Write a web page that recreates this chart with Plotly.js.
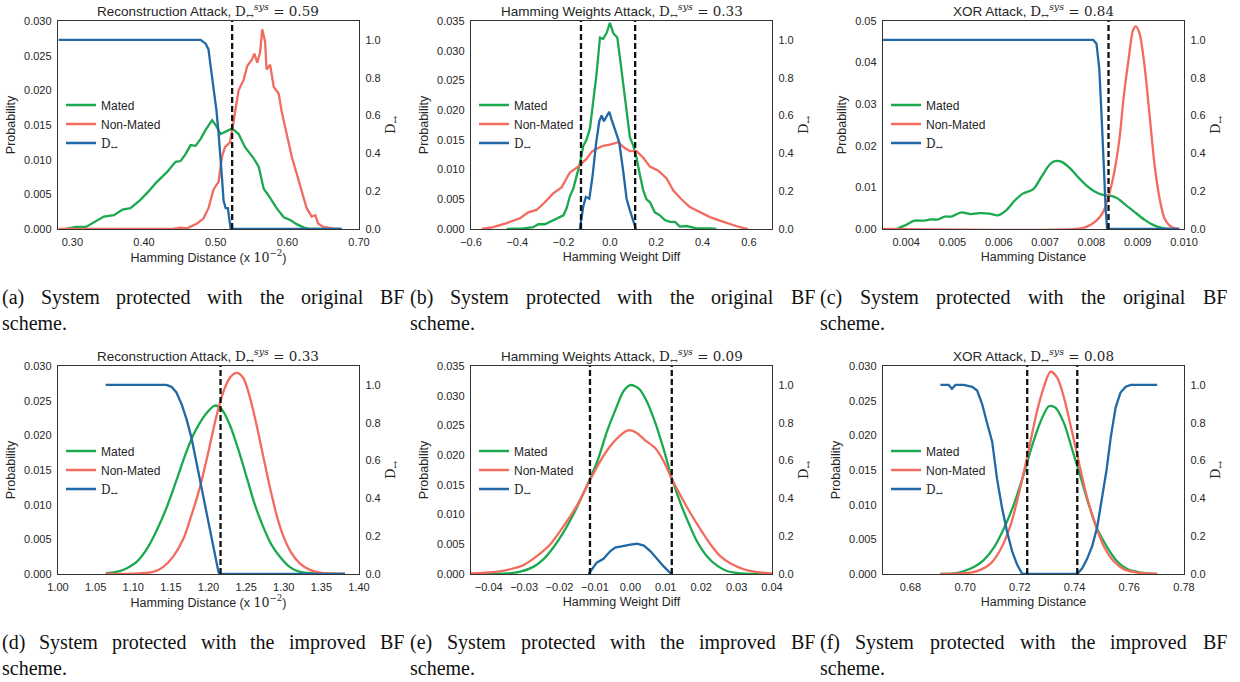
<!DOCTYPE html>
<html><head><meta charset="utf-8">
<script src="https://cdn.plot.ly/plotly-3.0.1.min.js"></script>
<style>body{margin:0;background:#fff}</style>
</head><body>
<div id="chart" style="width:1240px;height:682px"></div>
<script>
// ---------- DATA ----------
// (a) Reconstruction attack, original BF
const aMatedX = [0.291,0.305,0.319,0.330,0.344,0.358,0.370,0.381,0.395,0.407,0.418,0.432,0.444,0.451,0.458,0.465,0.472,0.479,0.486,0.495,0.500,0.507,0.513,0.523,0.532,0.541,0.553,0.560,0.567,0.576,0.585,0.595,0.604,0.613,0.623,0.632,0.664];
const aMatedY = [0,0.0003,0.0003,0.0010,0.0018,0.0020,0.0028,0.0030,0.0042,0.0055,0.0068,0.0082,0.0097,0.0098,0.0108,0.0121,0.0120,0.0130,0.0143,0.0157,0.0150,0.0137,0.0140,0.0145,0.0137,0.0118,0.0102,0.0090,0.0058,0.0045,0.0030,0.0017,0.0013,0.0007,0.0002,0,0];
const aNonX = [0.281,0.440,0.451,0.460,0.474,0.483,0.490,0.497,0.504,0.509,0.513,0.520,0.525,0.532,0.539,0.544,0.551,0.554,0.558,0.562,0.565,0.569,0.571,0.576,0.581,0.588,0.592,0.599,0.606,0.613,0.620,0.627,0.634,0.639,0.643,0.650,0.664,0.676];
const aNonY = [0,0,0.0002,0.0001,0.0008,0.0015,0.0030,0.0057,0.0068,0.0105,0.0118,0.0125,0.0155,0.0200,0.0215,0.0235,0.0245,0.0253,0.0240,0.0255,0.0288,0.0270,0.0230,0.0237,0.0205,0.0195,0.0170,0.0135,0.0105,0.0080,0.0055,0.0030,0.0018,0.0020,0.0008,0.0003,0.0001,0];
const aDX = [0.281,0.479,0.486,0.490,0.493,0.497,0.501,0.504,0.507,0.509,0.511,0.514,0.517,0.519,0.521,0.676];
const aDY = [1,1,0.98,0.95,0.86,0.75,0.63,0.51,0.38,0.26,0.15,0.11,0.11,0.06,0,0];
const aThr = [0.523];

// (b) Hamming weights attack, original BF
const bMatedX = [-0.446,-0.374,-0.331,-0.309,-0.281,-0.259,-0.230,-0.201,-0.187,-0.173,-0.158,-0.144,-0.130,-0.115,-0.101,-0.086,-0.072,-0.058,-0.043,-0.029,-0.014,0.000,0.014,0.032,0.046,0.060,0.075,0.086,0.101,0.115,0.130,0.144,0.158,0.173,0.194,0.216,0.237,0.259,0.281,0.302,0.331,0.374,0.432,0.460];
const bMatedY = [0,0.0001,0.0003,0.0008,0.0008,0.0012,0.0018,0.0023,0.0035,0.0055,0.0068,0.0090,0.0110,0.0140,0.0150,0.0170,0.0215,0.0260,0.0322,0.0320,0.0330,0.0347,0.0330,0.0322,0.0280,0.0235,0.0180,0.0155,0.0140,0.0120,0.0090,0.0065,0.0050,0.0045,0.0028,0.0023,0.0015,0.0012,0.0012,0.0004,0.0005,0.0001,0.0001,0];
const bNonX = [-0.554,-0.504,-0.446,-0.388,-0.353,-0.317,-0.281,-0.245,-0.209,-0.173,-0.137,-0.101,-0.079,-0.058,-0.029,0.000,0.036,0.058,0.086,0.115,0.144,0.173,0.209,0.245,0.273,0.309,0.345,0.388,0.432,0.475,0.518,0.561,0.597];
const bNonY = [0,0.0003,0.0010,0.0018,0.0028,0.0032,0.0045,0.0060,0.0070,0.0095,0.0105,0.0118,0.0130,0.0135,0.0140,0.0142,0.0146,0.0138,0.0131,0.0131,0.0120,0.0105,0.0098,0.0085,0.0065,0.0050,0.0037,0.0028,0.0020,0.0014,0.0008,0.0003,0];
const bDX = [-0.130,-0.115,-0.104,-0.089,-0.075,-0.060,-0.046,-0.036,-0.026,-0.014,-0.003,0.007,0.022,0.040,0.058,0.072,0.086,0.101,0.112];
const bDY = [0,0.12,0.17,0.16,0.28,0.45,0.57,0.60,0.57,0.60,0.62,0.58,0.53,0.46,0.30,0.16,0.10,0.04,0];
const bThr = [-0.125, 0.109];

// (c) XOR attack, original BF
const cMatedX = [0.00379,0.00400,0.00418,0.00436,0.00454,0.00469,0.00483,0.00498,0.00519,0.00537,0.00559,0.00580,0.00598,0.00616,0.00634,0.00652,0.00674,0.00692,0.00710,0.00721,0.00735,0.00753,0.00771,0.00789,0.00807,0.00825,0.00840,0.00854,0.00872,0.00894,0.00915,0.00933,0.00955,0.00976];
const cMatedY = [0,0.0010,0.0020,0.0020,0.0023,0.0023,0.0030,0.0030,0.0040,0.0036,0.0038,0.0037,0.0033,0.0045,0.0068,0.0085,0.0095,0.0125,0.0155,0.0163,0.0162,0.0147,0.0125,0.0105,0.0090,0.0082,0.0080,0.0075,0.0060,0.0040,0.0022,0.0010,0.0002,0];
const cNonX = [0.0035,0.00768,0.00789,0.00811,0.00825,0.00832,0.00840,0.00850,0.00861,0.00869,0.00880,0.00890,0.00896,0.00904,0.00915,0.00926,0.00937,0.00948,0.00958,0.00969,0.00980,0.00990];
const cNonY = [0,0,0.0005,0.0020,0.0040,0.0060,0.0090,0.0140,0.0220,0.0310,0.0405,0.0478,0.0487,0.0470,0.0390,0.0270,0.0149,0.0069,0.0025,0.0008,0.0002,0];
const cDX = [0.0035,0.00804,0.00811,0.00817,0.00822,0.00827,0.00831,0.00834,0.00990];
const cDY = [1,1,0.98,0.85,0.60,0.30,0.10,0,0];
const cThr = [0.00837];

// (d) Reconstruction attack, improved BF
const dMatedX = [1.0634,1.0776,1.0909,1.1042,1.1175,1.1308,1.1441,1.1574,1.1685,1.1796,1.1885,1.1973,1.2084,1.2173,1.2284,1.2395,1.2506,1.2616,1.2727,1.2838,1.2949,1.3082,1.3215,1.3392,1.3814];
const dMatedY = [0.0001,0.0003,0.0008,0.0017,0.0035,0.0062,0.0095,0.0135,0.0170,0.0200,0.0218,0.0232,0.0243,0.0238,0.0215,0.0180,0.0140,0.0100,0.0068,0.0042,0.0025,0.0010,0.0003,0.0001,0];
const dNonX = [1.0634,1.1086,1.1264,1.1397,1.1530,1.1663,1.1774,1.1885,1.1996,1.2106,1.2195,1.2284,1.2373,1.2461,1.2550,1.2639,1.2727,1.2816,1.2905,1.2993,1.3104,1.3215,1.3348,1.3481,1.3814];
const dNonY = [0,0.0001,0.0003,0.0010,0.0025,0.0050,0.0085,0.0125,0.0175,0.0228,0.0262,0.0283,0.0290,0.0283,0.0255,0.0215,0.0170,0.0125,0.0085,0.0055,0.0030,0.0015,0.0006,0.0002,0];
const dDX = [1.0634,1.1441,1.1508,1.1574,1.1641,1.1707,1.1774,1.1840,1.1907,1.1973,1.2040,1.2098,1.2133,1.2151,1.3814];
const dDY = [1,1,0.99,0.96,0.90,0.82,0.72,0.59,0.45,0.31,0.18,0.07,0.01,0,0];
const dThr = [1.216];

// (e) Hamming weights attack, improved BF
const eMatedX = [-0.045,-0.0349,-0.0311,-0.0274,-0.0245,-0.0217,-0.0189,-0.0161,-0.0137,-0.0114,-0.0090,-0.0066,-0.0043,-0.0019,0.0000,0.0024,0.0047,0.0070,0.0094,0.0117,0.0141,0.0165,0.0188,0.0216,0.0245,0.0273,0.0311,0.040];
const eMatedY = [0,0.0001,0.0004,0.0012,0.0025,0.0045,0.0070,0.0100,0.0130,0.0160,0.0195,0.0240,0.0275,0.0308,0.0318,0.0312,0.0290,0.0255,0.0210,0.0162,0.0120,0.0085,0.0055,0.0030,0.0014,0.0005,0.0001,0];
const eNonX = [-0.045,-0.0387,-0.0340,-0.0302,-0.0264,-0.0226,-0.0189,-0.0151,-0.0114,-0.0085,-0.0057,-0.0029,-0.0005,0.0019,0.0042,0.0070,0.0094,0.0117,0.0141,0.0169,0.0198,0.0226,0.0254,0.0282,0.0320,0.0358,0.040];
const eNonY = [0.0001,0.0003,0.0008,0.0015,0.0030,0.0050,0.0080,0.0115,0.0158,0.0190,0.0215,0.0233,0.0242,0.0237,0.0225,0.0212,0.0190,0.0160,0.0133,0.0103,0.0075,0.0050,0.0030,0.0018,0.0008,0.0003,0.0001];
const eDX = [-0.0118,-0.0106,-0.0095,-0.0076,-0.0057,-0.0043,-0.0019,0.0000,0.0019,0.0038,0.0057,0.0075,0.0094,0.0113,0.0117];
const eDY = [0,0.03,0.06,0.08,0.12,0.14,0.15,0.155,0.16,0.15,0.12,0.08,0.04,0.005,0];
const eThr = [-0.0114, 0.0117];

// (f) XOR attack, improved BF
const fMatedX = [0.6910,0.6959,0.6995,0.7032,0.7068,0.7105,0.7141,0.7178,0.7215,0.7245,0.7276,0.7306,0.7330,0.7361,0.7391,0.7422,0.7452,0.7483,0.7520,0.7556,0.7593,0.7641,0.7702];
const fMatedY = [0,0.0001,0.0004,0.0010,0.0020,0.0038,0.0065,0.0100,0.0145,0.0185,0.0220,0.0242,0.0240,0.0218,0.0180,0.0140,0.0100,0.0065,0.0038,0.0018,0.0007,0.0002,0];
const fNonX = [0.6910,0.7020,0.7056,0.7093,0.7129,0.7166,0.7202,0.7233,0.7263,0.7288,0.7312,0.7337,0.7361,0.7391,0.7422,0.7446,0.7477,0.7507,0.7544,0.7580,0.7629,0.7702];
const fNonY = [0,0.0002,0.0006,0.0015,0.0035,0.0070,0.0125,0.0180,0.0235,0.0270,0.0292,0.0283,0.0255,0.0205,0.0150,0.0110,0.0070,0.0040,0.0018,0.0007,0.0002,0];
const fDX = [0.6910,0.6940,0.6952,0.6965,0.6995,0.7026,0.7044,0.7062,0.7080,0.7099,0.7117,0.7135,0.7154,0.7172,0.7190,0.7209,0.7410,0.7428,0.7446,0.7465,0.7483,0.7501,0.7517,0.7532,0.7550,0.7568,0.7587,0.7605,0.7702];
const fDY = [1,1,0.98,1,1,0.99,0.97,0.90,0.80,0.70,0.50,0.35,0.22,0.12,0.05,0,0,0.03,0.08,0.15,0.25,0.40,0.55,0.72,0.88,0.96,0.99,1,1];
const fThr = [0.7227, 0.741];

// titles / labels / ticks
const attackNames = ["Reconstruction Attack","Hamming Weights Attack","XOR Attack","Reconstruction Attack","Hamming Weights Attack","XOR Attack"];
const dSysValues = ["0.59","0.33","0.84","0.33","0.09","0.08"];
const seriesNames = ["Mated","Non-Mated","D↔"];
const xTitles = ["Hamming Distance (x 10^-2)","Hamming Weight Diff","Hamming Distance","Hamming Distance (x 10^-2)","Hamming Weight Diff","Hamming Distance"];
const yTitleLeft = "Probability";
const aXTicks = [0.30,0.40,0.50,0.60,0.70];
const bXTicks = [-0.6,-0.4,-0.2,0.0,0.2,0.4,0.6];
const cXTicks = [0.004,0.005,0.006,0.007,0.008,0.009,0.010];
const dXTicks = [1.00,1.05,1.10,1.15,1.20,1.25,1.30,1.35,1.40];
const eXTicks = [-0.04,-0.03,-0.02,-0.01,0.00,0.01,0.02,0.03,0.04];
const fXTicks = [0.68,0.70,0.72,0.74,0.76,0.78];
const probTicks30 = [0,0.005,0.010,0.015,0.020,0.025,0.030];
const probTicks35 = [0,0.005,0.010,0.015,0.020,0.025,0.030,0.035];
const probTicks05 = [0,0.01,0.02,0.03,0.04,0.05];
const dTicks = [0,0.2,0.4,0.6,0.8,1.0];
const captionTexts = [
  "(a) System protected with the original BF","(b) System protected with the original BF","(c) System protected with the original BF",
  "(d) System protected with the improved BF","(e) System protected with the improved BF","(f) System protected with the improved BF"];
const captionSecond = "scheme.";

// ---------- LAYOUT / STYLE ----------
const W = 1240, H = 682;
const colX = [[58,359],[471,772],[883,1184]];
const rowY = [[21,229],[366,574]];
const legendCY = [124, 470];
const capCols = [[1,403],[409,814],[819,1226]];
const capRowY = [[297,323],[642,668]];
const COL = {mated:'#1aa94f', non:'#f26b5e', d:'#2068a6'};
const SERIF = "'Liberation Serif', 'Times New Roman', serif";
const MATH = "'DejaVu Serif', serif";
const SANS = "'Liberation Sans', Arial, sans-serif";
const TXT = '#262626';

const panels = [
 {m:[aMatedX,aMatedY], n:[aNonX,aNonY], d:[aDX,aDY], thr:aThr, xr:[0.28,0.70], xt:aXTicks, xf:'.2f', yr:[0,0.030], yt:probTicks30, yf:'.3f', smooth:false},
 {m:[bMatedX,bMatedY], n:[bNonX,bNonY], d:[bDX,bDY], thr:bThr, xr:[-0.6,0.7], xt:bXTicks, xf:'.1f', yr:[0,0.035], yt:probTicks35, yf:'.3f', smooth:false},
 {m:[cMatedX,cMatedY], n:[cNonX,cNonY], d:[cDX,cDY], thr:cThr, xr:[0.0035,0.010], xt:cXTicks, xf:'.3f', yr:[0,0.05], yt:probTicks05, yf:'.2f', smooth:true},
 {m:[dMatedX,dMatedY], n:[dNonX,dNonY], d:[dDX,dDY], thr:dThr, xr:[1.0,1.4], xt:dXTicks, xf:'.2f', yr:[0,0.030], yt:probTicks30, yf:'.3f', smooth:true},
 {m:[eMatedX,eMatedY], n:[eNonX,eNonY], d:[eDX,eDY], thr:eThr, xr:[-0.045,0.04], xt:eXTicks, xf:'.2f', yr:[0,0.035], yt:probTicks35, yf:'.3f', smooth:true},
 {m:[fMatedX,fMatedY], n:[fNonX,fNonY], d:[fDX,fDY], thr:fThr, xr:[0.67,0.78], xt:fXTicks, xf:'.2f', yr:[0,0.030], yt:probTicks30, yf:'.3f', smooth:true}
];

function sp(family, html){ return '<span style="font-family:' + family.replace(/"/g,"'") + '">' + html + '</span>'; }
function fmtTitle(t){
  return t.replace(' (x 10^-2)', ' (x ' + sp(MATH,'10<sup>−2</sup>') + ')');
}
const dHtml = sp(MATH, 'D<sub>↔</sub>');

const data = [], shapes = [], annotations = [];
const layout = {
  width: W, height: H, margin:{l:0,r:0,t:0,b:0},
  paper_bgcolor:'#fff', plot_bgcolor:'#fff',
  font:{family:SANS, color:TXT, size:11},
  showlegend:true, shapes, annotations
};
const px = p => p / W;
const py = p => 1 - p / H;
const canvas = document.createElement('canvas');
const ctx = canvas.getContext('2d');

panels.forEach((P, i) => {
  const c = i % 3, r = Math.floor(i / 3);
  const xs = i === 0 ? '' : String(i + 1);
  const yl = 2 * i + 1, yrN = 2 * i + 2;
  const ylS = yl === 1 ? '' : String(yl);
  const xid = 'x' + xs, ylid = 'y' + ylS, yrid = 'y' + yrN;
  const legId = i === 0 ? 'legend' : 'legend' + (i + 1);
  const lineShape = P.smooth ? 'spline' : 'linear';
  const common = {type:'scatter', mode:'lines', xaxis:xid, legend:legId, hoverinfo:'skip'};
  data.push(Object.assign({}, common, {x:P.m[0], y:P.m[1], yaxis:ylid, name:seriesNames[0],
    line:{color:COL.mated, width:2.3, shape:lineShape, smoothing:0.8}}));
  data.push(Object.assign({}, common, {x:P.n[0], y:P.n[1], yaxis:ylid, name:seriesNames[1],
    line:{color:COL.non, width:2.3, shape:lineShape, smoothing:0.8}}));
  data.push(Object.assign({}, common, {x:P.d[0], y:P.d[1], yaxis:yrid, name:dHtml,
    line:{color:COL.d, width:2.3}}));

  const axLine = {showline:true, linecolor:'#333', linewidth:1.25, ticks:'', showgrid:false, zeroline:false, fixedrange:true};
  layout['xaxis' + xs] = Object.assign({}, axLine, {
    domain:[px(colX[c][0]), px(colX[c][1])], anchor:ylid, range:P.xr,
    tickmode:'array', tickvals:P.xt, tickformat:P.xf, mirror:true,
    tickfont:{size:11, color:TXT}, ticklabelstandoff:3,
    title:{text:fmtTitle(xTitles[i]), font:{size:12.5, color:TXT}, standoff:4}
  });
  layout['yaxis' + ylS] = Object.assign({}, axLine, {
    domain:[py(rowY[r][1]), py(rowY[r][0])], anchor:xid, range:P.yr,
    tickmode:'array', tickvals:P.yt, tickformat:P.yf,
    tickfont:{size:11, color:TXT}, ticklabelstandoff:3,
    title:{text:yTitleLeft, font:{size:12.5, color:TXT}, standoff:5}
  });
  layout['yaxis' + yrN] = Object.assign({}, axLine, {
    overlaying:ylid, anchor:xid, side:'right', range:[0,1.1],
    tickmode:'array', tickvals:dTicks, tickformat:'.1f',
    tickfont:{size:11, color:TXT}, ticklabelstandoff:3,
    title:{text:dHtml, font:{size:13, color:TXT}, standoff:6}
  });
  layout[legId] = {x:px(colX[c][0] + 3), xanchor:'left', y:py(legendCY[r]), yanchor:'middle',
    bgcolor:'rgba(0,0,0,0)', borderwidth:0, font:{size:12, color:TXT}, tracegroupgap:0};

  P.thr.forEach(t => shapes.push({type:'line', xref:xid, yref:ylid + ' domain', x0:t, x1:t, y0:0, y1:1,
    line:{color:'#111', width:2.3, dash:'6px,3px'}}));

  annotations.push({xref:xid + ' domain', yref:ylid + ' domain', x:0.5, y:1, xanchor:'center', yanchor:'bottom',
    showarrow:false, font:{size:13.5, color:TXT}, yshift:-2,
    text: attackNames[i] + ', ' + sp(MATH, 'D<sub>↔</sub><sup><i>sys</i></sup> = ' + dSysValues[i])});

  // justified captions
  const fsz = 20;
  ctx.font = fsz + 'px "Liberation Serif"';
  const words = captionTexts[i].split(' ');
  const widths = words.map(w => ctx.measureText(w).width);
  const total = widths.reduce((s, v) => s + v, 0);
  const [x0, x1] = capCols[c];
  const gap = (x1 - x0 - total) / (words.length - 1);
  let cx = x0;
  words.forEach((w, k) => {
    annotations.push({xref:'paper', yref:'paper', x:px(cx), y:py(capRowY[r][0]), xanchor:'left', yanchor:'middle',
      showarrow:false, text:w, font:{family:SERIF, size:fsz, color:'#111'}, borderpad:0});
    cx += widths[k] + gap;
  });
  annotations.push({xref:'paper', yref:'paper', x:px(x0), y:py(capRowY[r][1]), xanchor:'left', yanchor:'middle',
    showarrow:false, text:captionSecond, font:{family:SERIF, size:fsz, color:'#111'}, borderpad:0});
});

Plotly.newPlot('chart', data, layout, {displayModeBar:false, staticPlot:true});
</script>
</body></html>
